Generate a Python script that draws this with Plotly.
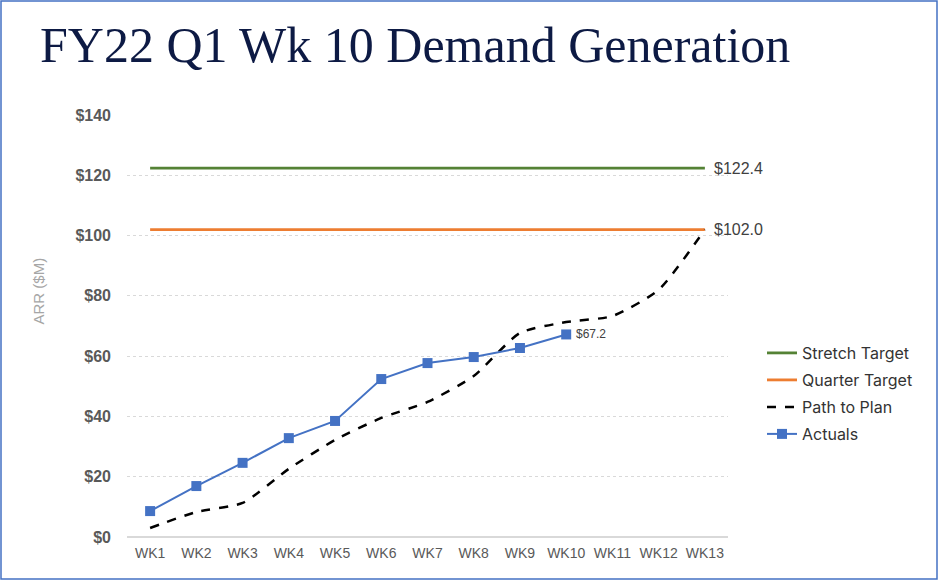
import plotly.graph_objects as go

weeks = ["WK1", "WK2", "WK3", "WK4", "WK5", "WK6", "WK7", "WK8", "WK9", "WK10", "WK11", "WK12", "WK13"]
stretch_target = [122.4] * 13
quarter_target = [102.0] * 13
path_to_plan = [3.0, 8.3, 11.3, 22.6, 32.2, 39.5, 44.8, 53.4, 67.7, 71.3, 73.3, 82.0, 102.0]
actuals = [8.6, 16.9, 24.6, 32.8, 38.5, 52.4, 57.7, 59.7, 62.7, 67.2]
y_ticks = [0, 20, 40, 60, 80, 100, 120, 140]

L, R, T, B = 127, 212, 115, 45
PW, PH = 940 - L - R, 582 - T - B


def px_x(p):
    return (p - L) / PW


def px_y(p):
    return (582 - B - p) / PH


legend_font = dict(family="Inter", size=16, color="#333333")
legend_ys = [353, 380, 407, 434]
legend_names = ["legend", "legend2", "legend3", "legend4"]

fig = go.Figure()
fig.add_trace(go.Scatter(x=weeks, y=stretch_target, name="Stretch Target", mode="lines",
                         line=dict(color="#548235", width=2.8), legend="legend"))
fig.add_trace(go.Scatter(x=weeks, y=quarter_target, name="Quarter Target", mode="lines",
                         line=dict(color="#ED7D31", width=2.8), legend="legend2"))
fig.add_trace(go.Scatter(x=weeks, y=path_to_plan, name="Path to Plan", mode="lines",
                         line=dict(color="black", width=2.5, dash="dash", shape="spline", smoothing=0.6),
                         legend="legend3"))
fig.add_trace(go.Scatter(x=weeks[:len(actuals)], y=actuals, name="Actuals", mode="lines+markers",
                         line=dict(color="#4472C4", width=2),
                         marker=dict(symbol="square", size=10, color="#4472C4"), legend="legend4"))

fig.add_annotation(x=weeks[-1], y=stretch_target[-1], text="$%.1f" % stretch_target[-1], showarrow=False,
                   xanchor="left", xshift=7, font=dict(family="Liberation Sans", size=16, color="#404040"))
fig.add_annotation(x=weeks[-1], y=quarter_target[-1], text="$%.1f" % quarter_target[-1], showarrow=False,
                   xanchor="left", xshift=7, font=dict(family="Liberation Sans", size=16, color="#404040"))
fig.add_annotation(x=weeks[len(actuals) - 1], y=actuals[-1], text="$%.1f" % actuals[-1], showarrow=False,
                   xanchor="left", xshift=8, font=dict(family="Liberation Sans", size=12, color="#404040"))
fig.add_annotation(xref="paper", yref="paper", x=px_x(27), y=px_y(291), text="ARR ($M)", textangle=-90,
                   showarrow=False, font=dict(family="Liberation Sans", size=15, color="#A6A6A6"))

# outer frame
fig.add_shape(type="rect", xref="paper", yref="paper",
              x0=px_x(1), x1=px_x(937), y0=px_y(579), y1=px_y(1),
              line=dict(color="#4472C4", width=1.5), fillcolor="rgba(0,0,0,0)", layer="below")

legend_layout = {}
for name, ly in zip(legend_names, legend_ys):
    legend_layout[name] = dict(x=px_x(762), xanchor="left", y=px_y(ly), yanchor="middle",
                               font=legend_font, bgcolor="rgba(0,0,0,0)")

fig.update_layout(
    width=940, height=582,
    margin=dict(l=L, r=R, t=T, b=B),
    paper_bgcolor="white", plot_bgcolor="white",
    title=dict(text="FY22 Q1 Wk 10 Demand Generation", x=40 / 940, xanchor="left",
               y=1 - 44 / 582, yanchor="middle", xref="container", yref="container",
               font=dict(family="Liberation Serif", size=50, color="#0D1A44")),
    showlegend=True,
    **legend_layout,
)
fig.update_xaxes(type="category", range=[-0.5, 12.5], showgrid=False, showline=False, ticks="",
                 ticklabelstandoff=6,
                 tickfont=dict(family="Liberation Sans", size=14, color="#595959"))
fig.update_yaxes(range=[0, 140], tickvals=y_ticks, ticktext=["$%d" % v for v in y_ticks],
                 showgrid=True, gridcolor="#D9D9D9", griddash="dot", gridwidth=1,
                 zeroline=True, zerolinecolor="#D9D9D9", zerolinewidth=1.5,
                 ticklabelstandoff=15,
                 tickfont=dict(family="Liberation Sans", size=16, color="#595959", weight="bold"))

fig.write_html("out.html", config={"displayModeBar": False},
               post_script="document.body.style.margin='0';document.body.style.padding='0';")
